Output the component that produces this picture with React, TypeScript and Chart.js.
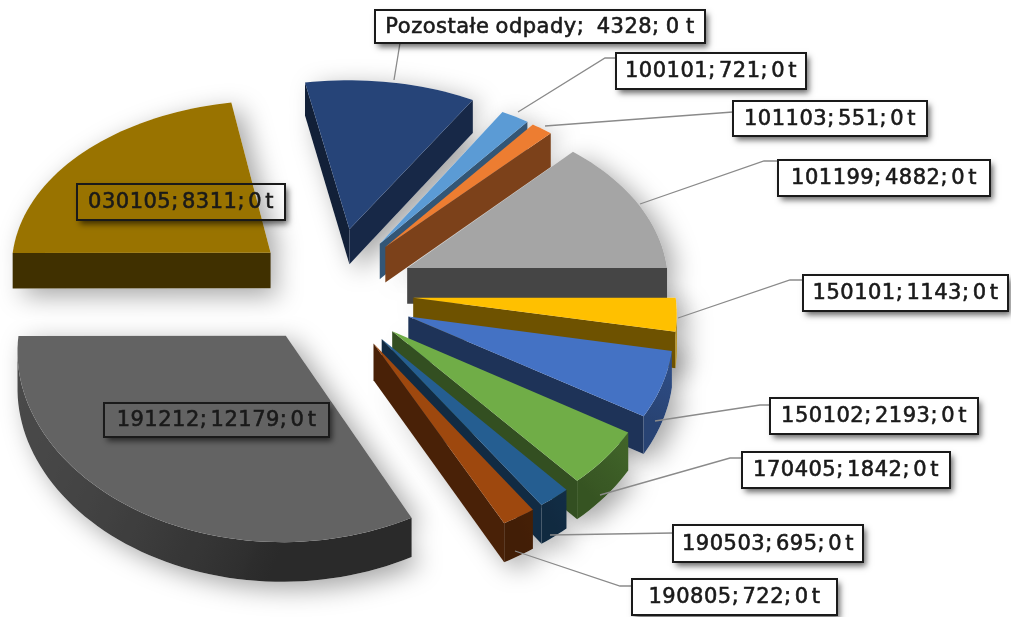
import React, { useEffect, useRef } from "react";
import { Chart, registerables } from "chart.js";

Chart.register(...registerables);

const categories = ["Pozostałe odpady", "100101", "101103", "101199", "150101", "150102", "170405", "190503", "190805", "191212", "030105"];
const values = [4328, 721, 551, 4882, 1143, 2193, 1842, 695, 722, 12179, 8311];
const tonnes = [0, 0, 0, 0, 0, 0, 0, 0, 0, 0, 0];
const explosions = [36, 30, 30, 29, 28, 27, 26, 26, 25, 33, 35];
const colors = ["#264478", "#5B9BD5", "#ED7D31", "#A5A5A5", "#FFC000", "#4472C4", "#70AD47", "#255E91", "#9E480E", "#636363", "#997300"];
// screen nudge of each exploded slice (view tweak, px)
const sliceShiftX = [-7, -4, -5, -2, 0, 2, 0, 0, 0, -8, 0];
const sliceDrop = [5, 2, 2, 4, 9, 15, 17, 18, 21, 1, 7];

// label layout: x, y, w, h of each box
const labelBoxes = [
  [375, 10, 330, 33], [616, 53, 190, 36], [733, 101, 194, 35], [778, 160, 212, 36],
  [803, 275, 205, 36], [770, 398, 208, 36], [742, 452, 208, 36], [673, 525, 190, 37],
  [632, 579, 205, 36], [104, 403, 225, 34], [77, 184, 208, 36],
];
const filledBoxes = [true, true, true, true, true, true, true, true, true, false, false];
// leader polylines from slice to box
const leaderLines: number[][][] = [
  [[394, 80], [400, 43]],
  [[518, 112], [605, 58], [616, 58]],
  [[545, 126], [733, 112]],
  [[640, 204], [764, 161], [778, 161]],
  [[678, 318], [790, 280], [803, 280]],
  [[655, 421], [760, 405], [770, 405]],
  [[600, 495], [730, 458], [742, 458]],
  [[550, 535], [673, 533]],
  [[515, 551], [620, 586], [632, 586]],
  [],
  [],
];

const VIEW = { cx: 340, cy: 284, R: 262, Q: 175, Dx: 14, Dy: 10, depth: 36 };

type Nudge = { dx: number; dy: number };

function project(X: number, Y: number, z: number, n: Nudge): [number, number] {
  const sx = VIEW.Dx / (VIEW.Dx + Y);
  const sy = VIEW.Dy / (VIEW.Dy + Y);
  return [VIEW.cx + n.dx + X * VIEW.R * sx, VIEW.cy + n.dy - Y * VIEW.Q * sy + z * VIEW.depth * sx];
}

function shade(hex: string, f: number) {
  const n = parseInt(hex.slice(1), 16);
  return `rgb(${Math.round(((n >> 16) & 255) * f)},${Math.round(((n >> 8) & 255) * f)},${Math.round((n & 255) * f)})`;
}

function wallShade(normalAngle: number, leftLight: number) {
  return 0.42 + 0.36 * Math.max(0, Math.cos(normalAngle - Math.PI / 6)) + leftLight * Math.max(0, Math.cos(normalAngle - Math.PI));
}

function poly(ctx: CanvasRenderingContext2D, pts: [number, number][]) {
  ctx.beginPath();
  pts.forEach((p, i) => (i ? ctx.lineTo(p[0], p[1]) : ctx.moveTo(p[0], p[1])));
  ctx.closePath();
}

function area(pts: [number, number][]) {
  let a = 0;
  for (let i = 0; i < pts.length; i++) {
    const p = pts[i], q = pts[(i + 1) % pts.length];
    a += p[0] * q[1] - q[0] * p[1];
  }
  return a / 2;
}

const pie3d = {
  id: "pie3d",
  beforeDatasetDraw(chart: any) {
    const ctx: CanvasRenderingContext2D = chart.ctx;
    const arcs = chart.getDatasetMeta(0).data.map((arc: any, i: number) => {
      const mid = (arc.startAngle + arc.endAngle) / 2;
      const e = arc.options.offset / 100;
      const ox = Math.cos(mid) * e, oy = -Math.sin(mid) * e;
      const n = Math.max(6, Math.ceil((arc.endAngle - arc.startAngle) * 30));
      const rim: [number, number][] = [];
      for (let k = 0; k <= n; k++) {
        const a = arc.startAngle + ((arc.endAngle - arc.startAngle) * k) / n;
        rim.push([ox + Math.cos(a), oy - Math.sin(a)]);
      }
      return {
        i, mid, ox, oy, rim,
        color: arc.options.backgroundColor as string,
        start: arc.startAngle, end: arc.endAngle,
        nudge: { dx: sliceShiftX[i], dy: sliceDrop[i] },
      };
    });
    arcs.sort((a: any, b: any) => Math.sin(a.mid) - Math.sin(b.mid));

    // soft shadows
    ctx.save();
    ctx.shadowColor = "rgba(0,0,0,0.36)";
    ctx.shadowBlur = 26;
    ctx.shadowOffsetX = 9;
    ctx.shadowOffsetY = 7;
    ctx.fillStyle = "#fff";
    arcs.forEach((s: any) => {
      const top = [[s.ox, s.oy], ...s.rim].map((p: number[]) => project(p[0], p[1], 0, s.nudge));
      const bottom = [[s.ox, s.oy], ...s.rim].map((p: number[]) => project(p[0], p[1], 1, s.nudge));
      const path = new Path2D();
      [top, bottom].forEach((pts) => {
        pts.forEach((p: number[], j: number) => (j ? path.lineTo(p[0], p[1]) : path.moveTo(p[0], p[1])));
        path.closePath();
      });
      ctx.fill(path);
    });
    ctx.restore();

    arcs.forEach((s: any) => {
      const apex: [number, number] = [s.ox, s.oy];
      const top = [apex, ...s.rim].map((p: number[]) => project(p[0], p[1], 0, s.nudge)) as [number, number][];
      const orient = Math.sign(area(top));
      const quad = (a: number[], b: number[]) =>
        [project(a[0], a[1], 0, s.nudge), project(b[0], b[1], 0, s.nudge), project(b[0], b[1], 1, s.nudge), project(a[0], a[1], 1, s.nudge)] as [number, number][];
      const wall = (a: number[], b: number[], normal: number) => {
        const q = quad(a, b);
        if (Math.sign(area(q)) !== orient) return;
        poly(ctx, q);
        ctx.fillStyle = shade(s.color, wallShade(normal, 0.05));
        ctx.fill();
      };
      wall(s.rim[0], apex, -s.start + Math.PI / 2);
      wall(apex, s.rim[s.rim.length - 1], -s.end - Math.PI / 2);

      // outer wall: the visible run of the rim as one polygon with a gradient
      const run: number[] = [];
      for (let k = 0; k < s.rim.length; k++) {
        const seg = k < s.rim.length - 1 ? quad(s.rim[k + 1], s.rim[k]) : null;
        const prev = k > 0 ? quad(s.rim[k], s.rim[k - 1]) : null;
        const vis = (q: [number, number][] | null) => q !== null && Math.sign(area(q)) === orient;
        if (vis(seg) || vis(prev)) run.push(k);
      }
      if (run.length > 1) {
        const pts: [number, number][] = [];
        run.forEach((k) => pts.push(project(s.rim[k][0], s.rim[k][1], 0, s.nudge)));
        [...run].reverse().forEach((k) => pts.push(project(s.rim[k][0], s.rim[k][1], 1, s.nudge)));
        const first = project(s.rim[run[0]][0], s.rim[run[0]][1], 0, s.nudge);
        const last = project(s.rim[run[run.length - 1]][0], s.rim[run[run.length - 1]][1], 0, s.nudge);
        const g = ctx.createLinearGradient(first[0], first[1], last[0], last[1]);
        const angleAt = (k: number) => s.start + ((s.end - s.start) * k) / (s.rim.length - 1);
        run.forEach((k, idx) => g.addColorStop(idx / (run.length - 1), shade(s.color, wallShade(-angleAt(k), 0.32))));
        poly(ctx, pts);
        ctx.fillStyle = g;
        ctx.fill();
      }

      poly(ctx, top);
      ctx.fillStyle = s.color;
      ctx.fill();
    });
    return false;
  },
  afterDatasetsDraw(chart: any) {
    const ctx: CanvasRenderingContext2D = chart.ctx;
    ctx.save();
    leaderLines.forEach((line) => {
      if (!line.length) return;
      ctx.beginPath();
      line.forEach((p, i) => (i ? ctx.lineTo(p[0], p[1]) : ctx.moveTo(p[0], p[1])));
      ctx.strokeStyle = "#8a8a8a";
      ctx.lineWidth = 1.3;
      ctx.stroke();
    });
    categories.forEach((cat, i) => {
      const [x, y, w, h] = labelBoxes[i];
      // box shadow, only outside the box
      ctx.save();
      const outside = new Path2D();
      outside.rect(0, 0, chart.width, chart.height);
      outside.rect(x, y, w, h);
      ctx.clip(outside, "evenodd");
      ctx.shadowColor = "rgba(0,0,0,0.6)";
      ctx.shadowBlur = 6;
      ctx.shadowOffsetX = 3;
      ctx.shadowOffsetY = 4;
      ctx.fillStyle = "#fff";
      ctx.fillRect(x, y, w, h);
      ctx.restore();
      if (filledBoxes[i]) {
        ctx.fillStyle = "#fff";
        ctx.fillRect(x, y, w, h);
      }
      ctx.lineWidth = 2;
      ctx.strokeStyle = "#1a1a1a";
      ctx.strokeRect(x, y, w, h);
      ctx.fillStyle = "#1a1a1a";
      ctx.font = "21px 'DejaVu Sans'";
      ctx.textAlign = "center";
      ctx.textBaseline = "middle";
      const gap = i === 0 ? ";  " : "; ";
      const label = `${cat}${gap}${values[i]}; ${tonnes[i]} t`;
      (ctx as any).letterSpacing = "0.5px";
      (ctx as any).wordSpacing = i === 0 ? "-1px" : "-4px";
      ctx.fillText(label, x + w / 2, y + h / 2 + 1);
      ctx.strokeStyle = "#1a1a1a";
      ctx.lineWidth = 0.6;
      ctx.strokeText(label, x + w / 2, y + h / 2 + 1);
    });
    ctx.restore();
  },
};

export default function App() {
  const ref = useRef<HTMLCanvasElement>(null);
  useEffect(() => {
    document.body.style.margin = "0";
    const chart = new Chart(ref.current!, {
      type: "pie",
      data: {
        labels: categories,
        datasets: [{ data: values, backgroundColor: colors, offset: explosions, borderWidth: 0 }],
      },
      options: {
        animation: false,
        responsive: false,
        rotation: -10.45,
        plugins: { legend: { display: false }, tooltip: { enabled: false } },
      },
      plugins: [pie3d],
    } as any);
    return () => chart.destroy();
  }, []);
  return <canvas ref={ref} width={1011} height={617} style={{ display: "block", filter: "blur(0.6px)" }} />;
}
